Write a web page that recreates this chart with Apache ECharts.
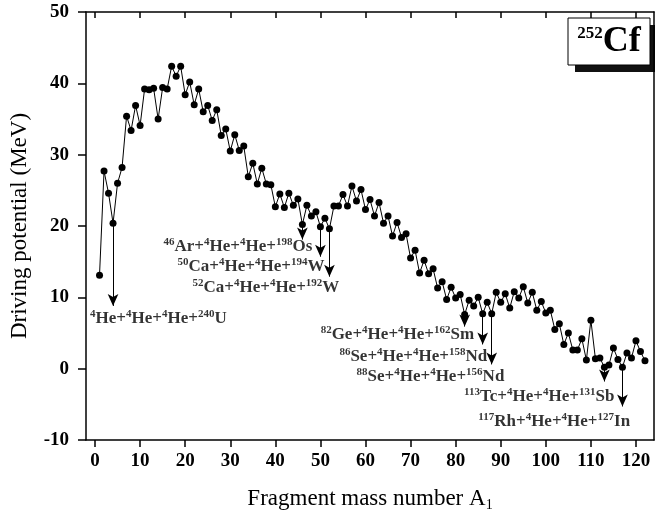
<!DOCTYPE html>
<html>
<head>
<meta charset="utf-8">
<script src="https://cdn.jsdelivr.net/npm/echarts@6/dist/echarts.min.js"></script>
<style>
  html, body { margin: 0; padding: 0; background: #fff; }
  #main { width: 655px; height: 524px; }
</style>
</head>
<body>
<div id="main"></div>
<script>
// fragment mass number A1
var fragmentA = [
  1, 2, 3, 4, 5, 6, 7, 8, 9, 10, 11, 12, 13, 14, 15, 16, 17, 18, 19, 20,
  21, 22, 23, 24, 25, 26, 27, 28, 29, 30, 31, 32, 33, 34, 35, 36, 37, 38, 39, 40,
  41, 42, 43, 44, 45, 46, 47, 48, 49, 50, 51, 52, 53, 54, 55, 56, 57, 58, 59, 60,
  61, 62, 63, 64, 65, 66, 67, 68, 69, 70, 71, 72, 73, 74, 75, 76, 77, 78, 79, 80,
  81, 82, 83, 84, 85, 86, 87, 88, 89, 90, 91, 92, 93, 94, 95, 96, 97, 98, 99, 100,
  101, 102, 103, 104, 105, 106, 107, 108, 109, 110, 111, 112, 113, 114, 115, 116, 117, 118, 119, 120,
  121, 122
];
// driving potential (MeV)
var drivingPotential = [
  13.1, 27.7, 24.6, 20.4, 26.0, 28.2, 35.4, 33.4, 36.9, 34.1, 39.2, 39.1, 39.3, 35.0, 39.4, 39.2, 42.4, 41.0, 42.4, 38.4,
  40.2, 37.0, 39.2, 36.0, 36.9, 34.8, 36.3, 32.7, 33.6, 30.5, 32.8, 30.6, 31.2, 26.9, 28.8, 25.9, 28.1, 25.9, 25.8, 22.7,
  24.5, 22.6, 24.6, 22.9, 23.8, 20.2, 22.9, 21.4, 22.0, 19.9, 21.1, 19.6, 22.8, 22.8, 24.4, 22.8, 25.6, 23.5, 25.1, 22.3,
  23.7, 21.4, 23.3, 20.4, 21.4, 18.6, 20.5, 18.4, 18.9, 15.5, 16.6, 13.4, 15.2, 13.3, 14.0, 11.3, 12.2, 9.7, 11.4, 9.9,
  10.4, 7.6, 9.6, 8.8, 10.0, 7.7, 9.3, 7.7, 10.7, 9.3, 10.5, 8.5, 10.8, 9.9, 11.5, 9.2, 10.7, 8.2, 9.4, 7.8,
  8.2, 5.5, 6.3, 3.4, 5.0, 2.6, 2.6, 4.2, 1.2, 6.8, 1.4, 1.5, 0.2, 0.5, 2.9, 1.3, 0.2, 2.2, 1.5, 3.9,
  2.4, 1.1
];
var xTicks = [0, 10, 20, 30, 40, 50, 60, 70, 80, 90, 100, 110, 120];

// marked ternary channels: A1 of the arrow and where the arrow ends
var arrowA = [4, 46, 50, 52, 82, 86, 88, 113, 117];
var arrowTip = [8.8, 18.1, 15.7, 12.9, 5.9, 3.4, 0.6, -1.8, -5.3];
var channelText = [
  '{s|4}He+{s|4}He+{s|4}He+{s|240}U',
  '{s|46}Ar+{s|4}He+{s|4}He+{s|198}Os',
  '{s|50}Ca+{s|4}He+{s|4}He+{s|194}W',
  '{s|52}Ca+{s|4}He+{s|4}He+{s|192}W',
  '{s|82}Ge+{s|4}He+{s|4}He+{s|162}Sm',
  '{s|86}Se+{s|4}He+{s|4}He+{s|158}Nd',
  '{s|88}Se+{s|4}He+{s|4}He+{s|156}Nd',
  '{s|113}Tc+{s|4}He+{s|4}He+{s|131}Sb',
  '{s|117}Rh+{s|4}He+{s|4}He+{s|127}In'
];
// label anchor (x, y in data units) and which side the text sits
var labelX = [-1.1, 48.2, 50.9, 54.2, 84.1, 87.0, 90.8, 115.2, 118.7];
var labelY = [7.0, 17.1, 14.3, 11.3, 4.8, 1.7, -1.1, -3.9, -7.4];
var labelSide = ['right', 'left', 'left', 'left', 'left', 'left', 'left', 'left', 'left'];

var serif = '"Liberation Serif", "DejaVu Serif", serif';

var points = fragmentA.map(function (a, i) { return [a, drivingPotential[i]]; });

var arrows = arrowA.map(function (a, i) {
  return [{ coord: [a, drivingPotential[fragmentA.indexOf(a)]] }, { coord: [a, arrowTip[i]] }];
});

var labelData = channelText.map(function (t, i) {
  return {
    value: [labelX[i], labelY[i]],
    label: { position: labelSide[i], formatter: t }
  };
});

var chart = echarts.init(document.getElementById('main'));

var option = {
  animation: false,
  backgroundColor: '#fff',
  grid: { left: 86, right: 1, top: 12, bottom: 84 },
  xAxis: [{
    type: 'value',
    min: -2,
    max: 124,
    position: 'bottom',
    axisLine: { onZero: false, lineStyle: { color: '#000', width: 1.5 } },
    axisTick: { customValues: xTicks, length: 7, lineStyle: { color: '#000', width: 1.5 } },
    axisLabel: { customValues: xTicks, color: '#000', fontFamily: serif, fontWeight: 'bold', fontSize: 19, margin: 12 },
    splitLine: { show: false },
    name: 'Fragment mass number A{sub|1}',
    nameLocation: 'middle',
    nameGap: 46,
    nameTextStyle: {
      color: '#000', fontFamily: serif, fontSize: 23,
      rich: { sub: { fontFamily: serif, fontSize: 14, color: '#000', padding: [12, 0, 0, 0] } }
    }
  }, {
    type: 'value',
    min: -2,
    max: 124,
    position: 'top',
    axisLine: { onZero: false, lineStyle: { color: '#000', width: 1.5 } },
    axisTick: { customValues: xTicks, inside: true, length: 6, lineStyle: { color: '#000', width: 1.5 } },
    axisLabel: { show: false },
    splitLine: { show: false }
  }],
  yAxis: [{
    type: 'value',
    min: -10,
    max: 50,
    interval: 10,
    axisLine: { onZero: false, lineStyle: { color: '#000', width: 1.5 } },
    axisTick: { show: true, length: 8, lineStyle: { color: '#000', width: 1.5 } },
    axisLabel: { color: '#000', fontFamily: serif, fontWeight: 'bold', fontSize: 19, margin: 17 },
    splitLine: { show: false },
    name: 'Driving potential (MeV)',
    nameLocation: 'middle',
    nameGap: 55,
    nameTextStyle: { color: '#000', fontFamily: serif, fontSize: 23 }
  }, {
    type: 'value',
    min: -10,
    max: 50,
    interval: 10,
    position: 'right',
    axisLine: { show: true, onZero: false, lineStyle: { color: '#000', width: 1.5 } },
    axisTick: { show: false },
    axisLabel: { show: false },
    splitLine: { show: false }
  }],
  series: [{
    name: '252Cf',
    type: 'line',
    data: points,
    symbol: 'circle',
    symbolSize: 7,
    itemStyle: { color: '#000' },
    lineStyle: { color: '#000', width: 1 },
    markLine: {
      silent: true,
      symbol: ['none', 'arrow'],
      symbolSize: [8, 12],
      label: { show: false },
      lineStyle: { color: '#000', width: 1, type: 'solid' },
      data: arrows
    }
  }, {
    name: 'channels',
    type: 'scatter',
    symbolSize: 0,
    data: labelData,
    itemStyle: { color: 'transparent' },
    label: {
      show: true,
      distance: 0,
      color: '#000',
      fontFamily: serif,
      fontWeight: 'bold',
      fontSize: 17,
      lineHeight: 20,
      rich: {
        s: { fontFamily: serif, fontWeight: 'bold', fontSize: 11, color: '#000', padding: [0, 0, 9, 0] }
      }
    }
  }],
  graphic: [{
    type: 'rect',
    shape: { x: 575, y: 25, width: 82, height: 47 },
    style: { fill: '#111' }
  }, {
    type: 'rect',
    shape: { x: 568, y: 18, width: 82, height: 47 },
    style: { fill: '#fff', stroke: '#000', lineWidth: 1 }
  }, {
    type: 'text',
    x: 609,
    y: 42,
    style: {
      text: '{s|252}{b|Cf}',
      align: 'center',
      verticalAlign: 'middle',
      rich: {
        s: { fontFamily: serif, fontWeight: 'bold', fontSize: 17, fill: '#000', padding: [0, 0, 16, 0] },
        b: { fontFamily: serif, fontWeight: 'bold', fontSize: 36, fill: '#000' }
      }
    }
  }]
};

chart.setOption(option);
</script>
</body>
</html>
